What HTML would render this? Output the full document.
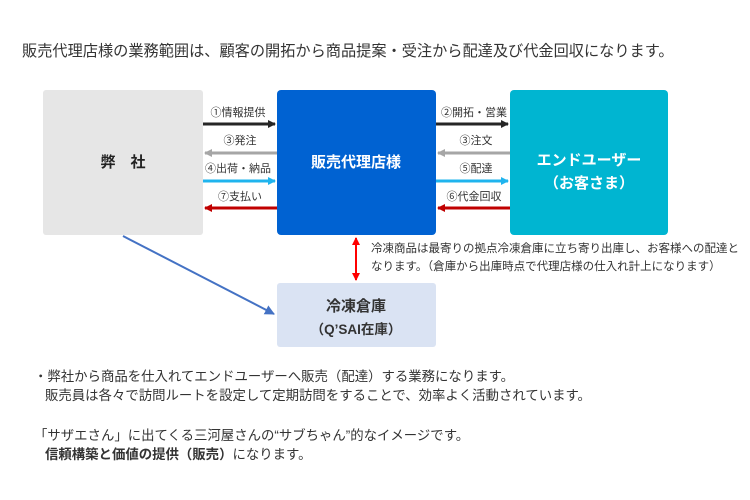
<!DOCTYPE html>
<html><head><meta charset="utf-8"><style>
body{margin:0;width:750px;height:500px;background:#fff;overflow:hidden;font-family:"Liberation Sans","Noto Sans CJK JP",sans-serif;color:#333}
svg{position:absolute;left:0;top:0}
.t{position:absolute;white-space:nowrap}
</style></head><body>
<svg width="750" height="500" font-family="Liberation Sans, Noto Sans CJK JP, sans-serif">
<defs>
<marker id="a1" markerWidth="8" markerHeight="8" refX="7" refY="4" orient="auto" markerUnits="userSpaceOnUse"><path d="M0,0L8,4L0,8z" fill="#262626"/></marker>
<marker id="a2" markerWidth="8" markerHeight="8" refX="7" refY="4" orient="auto" markerUnits="userSpaceOnUse"><path d="M0,0L8,4L0,8z" fill="#a6a6a6"/></marker>
<marker id="a3" markerWidth="8" markerHeight="8" refX="7" refY="4" orient="auto" markerUnits="userSpaceOnUse"><path d="M0,0L8,4L0,8z" fill="#1fb4ee"/></marker>
<marker id="a4" markerWidth="8" markerHeight="8" refX="7" refY="4" orient="auto" markerUnits="userSpaceOnUse"><path d="M0,0L8,4L0,8z" fill="#c00000"/></marker>
<marker id="a5" markerWidth="8" markerHeight="8" refX="7" refY="4" orient="auto" markerUnits="userSpaceOnUse"><path d="M0,0L8,4L0,8z" fill="#ff0000"/></marker>
<marker id="a6" markerWidth="10" markerHeight="10" refX="9" refY="5" orient="auto" markerUnits="userSpaceOnUse"><path d="M0,0L10,5L0,10z" fill="#4472c4"/></marker>
</defs>
<rect x="43" y="90" width="160" height="145" rx="3" fill="#e6e6e6"/>
<rect x="277" y="90" width="159" height="145" rx="4" fill="#0062d2"/>
<rect x="510" y="90" width="158" height="145" rx="4" fill="#00b5d1"/>
<rect x="277" y="283" width="159" height="64" rx="3" fill="#dae3f3"/>
<text x="123" y="167" font-size="15" font-weight="bold" text-anchor="middle" fill="#222">弊　社</text>
<text x="356" y="167" font-size="15" font-weight="bold" text-anchor="middle" fill="#fff">販売代理店様</text>
<text x="589" y="165" font-size="15" font-weight="bold" text-anchor="middle" fill="#fff">エンドユーザー</text>
<text x="589" y="188" font-size="15" font-weight="bold" text-anchor="middle" fill="#fff">（お客さま）</text>
<text x="356" y="311" font-size="15" font-weight="bold" text-anchor="middle" fill="#333">冷凍倉庫</text>
<text x="356" y="334" font-size="13.5" font-weight="bold" text-anchor="middle" fill="#333">（Q’SAI在庫）</text>
<g stroke-width="3">
<line x1="203" y1="124" x2="275" y2="124" stroke="#262626" marker-end="url(#a1)"/>
<line x1="277" y1="153" x2="205" y2="153" stroke="#a6a6a6" marker-end="url(#a2)"/>
<line x1="203" y1="181" x2="275" y2="181" stroke="#1fb4ee" marker-end="url(#a3)"/>
<line x1="277" y1="208" x2="205" y2="208" stroke="#c00000" marker-end="url(#a4)"/>
<line x1="436" y1="124" x2="508" y2="124" stroke="#262626" marker-end="url(#a1)"/>
<line x1="510" y1="153" x2="438" y2="153" stroke="#a6a6a6" marker-end="url(#a2)"/>
<line x1="436" y1="181" x2="508" y2="181" stroke="#1fb4ee" marker-end="url(#a3)"/>
<line x1="510" y1="208" x2="438" y2="208" stroke="#c00000" marker-end="url(#a4)"/>
</g>
<line x1="356" y1="238" x2="356" y2="280" stroke="#ff0000" stroke-width="2" marker-end="url(#a5)"/>
<line x1="356" y1="280" x2="356" y2="238" stroke="#ff0000" stroke-width="2" marker-end="url(#a5)"/>
<line x1="123" y1="236" x2="274" y2="314" stroke="#4472c4" stroke-width="2" marker-end="url(#a6)"/>
<g font-size="11" fill="#333" text-anchor="middle">
<text x="238" y="116">①情報提供</text>
<text x="240" y="144">③発注</text>
<text x="238" y="172">④出荷・納品</text>
<text x="240" y="200">⑦支払い</text>
<text x="474" y="116">②開拓・営業</text>
<text x="476" y="144">③注文</text>
<text x="476" y="172">⑤配達</text>
<text x="474" y="200">⑥代金回収</text>
</g>
<g font-size="11.5" fill="#333">
<text x="371" y="252">冷凍商品は最寄りの拠点冷凍倉庫に立ち寄り出庫し、お客様への配達と</text>
<text x="371" y="270">なります。（倉庫から出庫時点で代理店様の仕入れ計上になります）</text>
</g>
</svg>
<div class="t" style="left:22px;top:39px;font-size:15.2px">販売代理店様の業務範囲は、顧客の開拓から商品提案・受注から配達及び代金回収になります。</div>
<div class="t" style="left:34px;top:365px;font-size:13.4px">・弊社から商品を仕入れてエンドユーザーへ販売（配達）する業務になります。</div>
<div class="t" style="left:45px;top:384px;font-size:13.4px">販売員は各々で訪問ルートを設定して定期訪問をすることで、効率よく活動されています。</div>
<div class="t" style="left:34px;top:424px;font-size:13.4px">「サザエさん」に出てくる三河屋さんの“サブちゃん”的なイメージです。</div>
<div class="t" style="left:45px;top:443px;font-size:13.4px"><b>信頼構築と価値の提供（販売）</b>になります。</div>
</body></html>
